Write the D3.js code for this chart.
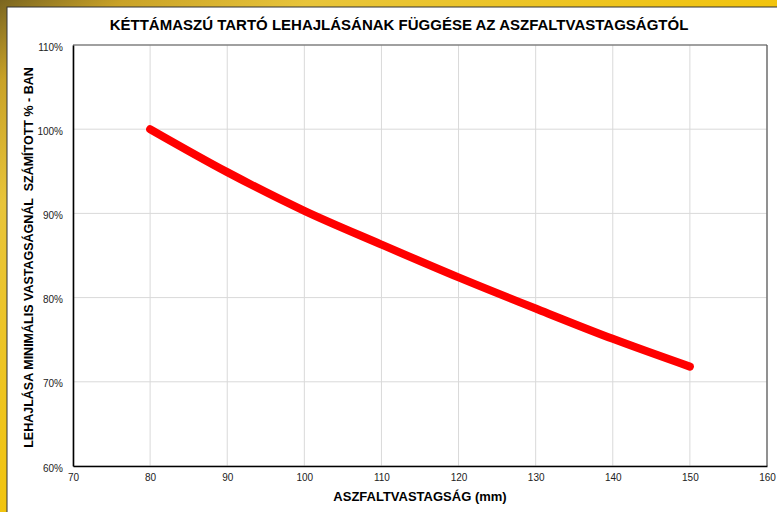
<!DOCTYPE html>
<html>
<head>
<meta charset="utf-8">
<script src="https://cdn.jsdelivr.net/npm/d3@7"></script>
<style>
    body { margin: 0; padding: 0; background: #fff; }
    svg { display: block; font-family: "Liberation Sans", Arial, sans-serif; }
</style>
</head>
<body>
<div id="chart"></div>
<script>
// values
var thickness = [80, 90, 100, 110, 120, 130, 140, 150];   // mm
var deflection = [1.00, 0.949, 0.903, 0.863, 0.824, 0.787, 0.751, 0.718];
var xTicks = [70, 80, 90, 100, 110, 120, 130, 140, 150, 160];
var yTicks = [0.6, 0.7, 0.8, 0.9, 1.0, 1.1];

var titleText = "KÉTTÁMASZÚ TARTÓ LEHAJLÁSÁNAK FÜGGÉSE AZ ASZFALTVASTAGSÁGTÓL";
var xLabel = "ASZFALTVASTAGSÁG (mm)";
var yLabel = "LEHAJLÁSA MINIMÁLIS VASTAGSÁGNÁL  SZÁMÍTOTT % - BAN";

var W = 777, H = 512;
var margin = { top: 45, right: 10, bottom: 46, left: 73 },
    width = W - margin.left - margin.right,
    height = H - margin.top - margin.bottom;

var svg = d3.select("#chart").append("svg")
    .attr("width", W)
    .attr("height", H);

// gold backdrop behind the white panel
var defs = svg.append("defs");
var grad = defs.append("linearGradient")
    .attr("id", "gold")
    .attr("x1", "0%").attr("y1", "0%")
    .attr("x2", "100%").attr("y2", "100%");
grad.append("stop").attr("offset", "0%").attr("stop-color", "#7a6520");
grad.append("stop").attr("offset", "8%").attr("stop-color", "#c9a227");
grad.append("stop").attr("offset", "20%").attr("stop-color", "#e8c43a");
grad.append("stop").attr("offset", "60%").attr("stop-color", "#f5c400");
grad.append("stop").attr("offset", "100%").attr("stop-color", "#f9d860");

svg.append("rect")
    .attr("width", W).attr("height", H)
    .attr("fill", "url(#gold)");

svg.append("rect")
    .attr("x", 7).attr("y", 7)
    .attr("width", W).attr("height", H)
    .attr("fill", "#fff")
    .attr("stroke", "#333")
    .attr("stroke-width", 1);

var g = svg.append("g")
    .attr("transform", "translate(" + margin.left + "," + margin.top + ")");

var x = d3.scaleLinear().domain([70, 160]).range([0, width]);
var y = d3.scaleLinear().domain([0.6, 1.1]).range([height, 0]);

// gridlines
g.append("g")
    .attr("class", "grid")
    .selectAll("line.gx")
    .data(xTicks)
    .enter().append("line")
    .attr("x1", function(d) { return x(d); })
    .attr("x2", function(d) { return x(d); })
    .attr("y1", 0).attr("y2", height)
    .attr("stroke", "#d9d9d9");

g.append("g")
    .attr("class", "grid")
    .selectAll("line.gy")
    .data(yTicks)
    .enter().append("line")
    .attr("x1", 0).attr("x2", width)
    .attr("y1", function(d) { return y(d); })
    .attr("y2", function(d) { return y(d); })
    .attr("stroke", "#d9d9d9");

// frame: top/right grey, bottom/left black
g.append("line").attr("x1", 0).attr("x2", width).attr("y1", 0).attr("y2", 0)
    .attr("stroke", "#555").attr("stroke-width", 1.2);
g.append("line").attr("x1", width).attr("x2", width).attr("y1", 0).attr("y2", height)
    .attr("stroke", "#555").attr("stroke-width", 1.2);

var xAxis = d3.axisBottom(x).tickValues(xTicks).tickSize(0).tickPadding(8);
var yAxis = d3.axisLeft(y).tickValues(yTicks).tickSize(0).tickPadding(10)
    .tickFormat(d3.format(".0%"));

var gx = g.append("g")
    .attr("class", "axis axis--x")
    .attr("transform", "translate(0," + height + ")")
    .call(xAxis);
var gy = g.append("g")
    .attr("class", "axis axis--y")
    .call(yAxis);

[gx, gy].forEach(function(a) {
    a.select(".domain").attr("stroke", "#000").attr("stroke-width", 1.6);
    a.selectAll("text")
        .style("font-family", "'Liberation Sans', Arial, sans-serif")
        .style("font-size", "10px")
        .attr("fill", "#222");
});
gy.selectAll("text").attr("dy", "0.5em");

// the curve
var line = d3.line()
    .curve(d3.curveMonotoneX)
    .x(function(d, i) { return x(thickness[i]); })
    .y(function(d) { return y(d); });

g.append("path")
    .datum(deflection)
    .attr("fill", "none")
    .attr("stroke", "#ff0000")
    .attr("stroke-width", 8)
    .attr("stroke-linecap", "round")
    .attr("stroke-linejoin", "round")
    .attr("d", line);

// titles
svg.append("text")
    .attr("x", 399)
    .attr("y", 30)
    .attr("text-anchor", "middle")
    .style("font-size", "15px")
    .style("font-weight", "bold")
    .text(titleText);

svg.append("text")
    .attr("x", margin.left + width / 2)
    .attr("y", 501)
    .attr("text-anchor", "middle")
    .style("font-size", "13px")
    .style("font-weight", "bold")
    .text(xLabel);

svg.append("text")
    .attr("transform", "translate(33," + (margin.top + height / 2 + 2) + ") rotate(-90)")
    .attr("text-anchor", "middle")
    .style("font-size", "12.5px")
    .style("font-weight", "bold")
    .style("white-space", "pre")
    .attr("xml:space", "preserve")
    .text(yLabel);
</script>
</body>
</html>
